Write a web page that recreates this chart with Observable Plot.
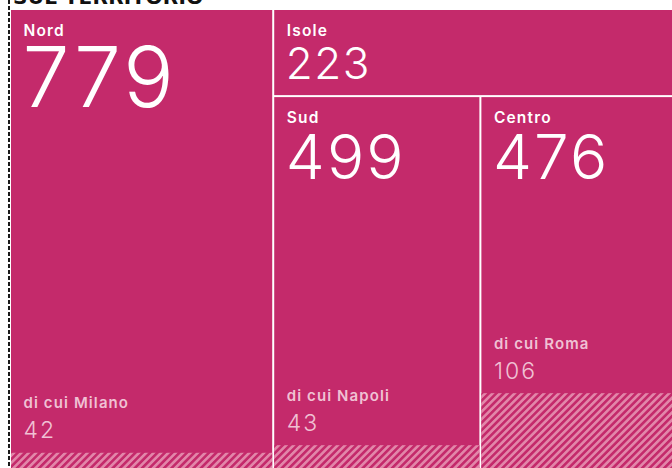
<!DOCTYPE html>
<html><head><meta charset="utf-8">
<script src="https://cdn.jsdelivr.net/npm/d3@7"></script>
<script src="https://cdn.jsdelivr.net/npm/@observablehq/plot@0.6"></script>
<style>
html,body{margin:0;padding:0;background:#fff;width:672px;height:468px;overflow:hidden;}
#wrap{position:relative;width:672px;height:468px;overflow:hidden;}
#title{position:absolute;left:13px;top:-13px;font:bold 20px "DejaVu Sans";line-height:20px;color:#111;letter-spacing:0.3px;white-space:nowrap;}
#dash{position:absolute;left:8px;top:0;width:2px;height:468px;background:repeating-linear-gradient(to bottom,#1a1a1a 0 4px,transparent 4px 6px);}
#chart{position:absolute;left:0;top:9px;}
</style></head><body>
<div id="wrap"><div id="title"></div><div id="chart"></div><div id="dash"></div></div>
<script>
const title = "SUL TERRITORIO";
const regions = ["Nord", "Isole", "Sud", "Centro"];
const totals = [779, 223, 499, 476];
const cities = ["Milano", null, "Napoli", "Roma"];
const cityValues = [42, null, 43, 106];
const cityPrefix = "di cui";

const MAG = "#C42A6B";
const leaves = regions.map((name, i) => ({name, value: totals[i], city: cities[i], cityValue: cityValues[i]}));
const tree = {children: [leaves[0], {children: [leaves[1], {children: [leaves[2], leaves[3]]}]}]};
const root = d3.hierarchy(tree).sum(d => d.children ? 0 : d.value);
d3.treemap().tile(d3.treemapSliceDice).size([1, 1])(root);
const cells = root.leaves().map(n => ({
  ...n.data, x0: n.x0, x1: n.x1, y0: n.y0, y1: n.y1,
  hy: n.data.cityValue ? n.y1 - (n.y1 - n.y0) * n.data.cityValue / n.data.value : null
}));
const subs = cells.filter(d => d.cityValue);
const numSize = {Nord: 84, Isole: 44, Sud: 62, Centro: 62};

document.getElementById("title").textContent = title;

const svg = Plot.plot({
  width: 672, height: 459, margin: 0,
  x: {domain: [0, 1], range: [10, 678], axis: null},
  y: {domain: [0, 1], range: [0, 468], axis: null},
  style: {overflow: "hidden", background: "transparent"},
  marks: [
    Plot.rect(cells, {x1: "x0", x2: "x1", y1: "y0", y2: "y1", fill: MAG, inset: 1}),
    Plot.rect(subs, {x1: "x0", x2: "x1", y1: "hy", y2: "y1", fill: "url(#hatch)", inset: 1}),
    Plot.text(cells, {x: "x0", y: "y0", text: "name", dx: 13, dy: 26, textAnchor: "start", lineAnchor: "bottom",
      fill: "white", fontSize: 15.5, fontWeight: 600, fontFamily: "Inter"}),
    Plot.text(cells, {x: "x0", y: "y0", text: d => String(d.value), dx: 12, dy: 38, textAnchor: "start", lineAnchor: "top",
      fill: "white", fontSize: d => numSize[d.name], fontWeight: 300, fontFamily: "Inter"}),
    Plot.text(subs, {x: "x0", y: "hy", text: d => cityPrefix + " " + d.city, dx: 13, dy: -44, textAnchor: "start", lineAnchor: "bottom",
      fill: "#F0C1D4", fontSize: 15, fontWeight: 600, fontFamily: "Inter"}),
    Plot.text(subs, {x: "x0", y: "hy", text: d => String(d.cityValue), dx: 13, dy: -14, textAnchor: "start", lineAnchor: "bottom",
      fill: "#F0C1D4", fontSize: 23, fontWeight: 300, fontFamily: "Inter"})
  ]
});
const defs = document.createElementNS("http://www.w3.org/2000/svg", "defs");
defs.innerHTML = '<pattern id="hatch" patternUnits="userSpaceOnUse" width="5.2" height="5.2" patternTransform="rotate(45)">' +
  '<rect width="5.2" height="5.2" fill="' + MAG + '"/><rect width="2.6" height="5.2" fill="#E286A9"/></pattern>';
svg.prepend(defs);
// letter spacing to mimic the wider original typeface
const bigNums = totals.map(String), smallNums = cityValues.filter(v => v != null).map(String);
svg.querySelectorAll("text").forEach(t => {
  const s = t.textContent;
  let ls = null;
  if (regions.includes(s)) ls = "1.2px";
  else if (s.startsWith(cityPrefix)) ls = "1.1px";
  else if (bigNums.includes(s)) ls = "0.035em";
  else if (smallNums.includes(s)) ls = "2px";
  if (ls) t.style.letterSpacing = ls;
});
document.getElementById("chart").appendChild(svg);
</script>
</body></html>
